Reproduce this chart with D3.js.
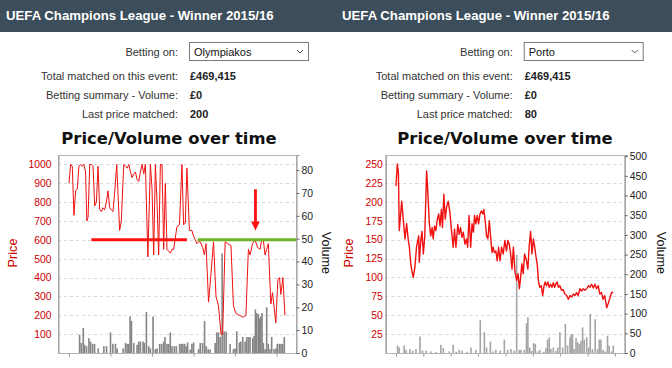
<!DOCTYPE html>
<html>
<head>
<meta charset="utf-8">
<script src="https://cdn.jsdelivr.net/npm/d3@7"></script>
<style>
  body { margin: 0; background: #fff; }
  svg { display: block; }
</style>
</head>
<body>
<div id="chart"></div>
<script>
const eventTitle = "UEFA Champions League - Winner 2015/16";
const chartTitle = "Price/Volume over time";
const infoLabels = ["Betting on:", "Total matched on this event:", "Betting summary - Volume:", "Last price matched:"];
const runners = ["Olympiakos", "Porto"];
const totalMatched = ["£469,415", "£469,415"];
const summaryVolume = ["£0", "£0"];
const lastPrice = ["200", "80"];

// Olympiakos: [time, price]
const leftPrice = [
  [0,900],[0.4,1000],[0.8,990],[1.2,730],[1.6,860],[2.0,870],[2.4,990],[2.8,1000],[3.2,990],[3.6,1000],
  [4.0,960],[4.3,700],[4.6,720],[5.0,1000],[5.4,1000],[5.8,990],[6.2,780],[6.6,800],[7.0,990],[7.4,760],
  [7.8,750],[8.2,770],[8.6,760],[9.0,800],[9.4,860],[9.8,770],[10.2,760],[10.6,750],[11.0,850],[11.5,1000],
  [12.2,650],[12.6,700],[13.2,1000],[13.6,990],[14.0,980],[14.4,1000],[14.8,960],[15.2,930],[15.6,950],[16.0,960],
  [16.4,920],[16.8,910],[17.2,960],[17.6,1000],[18.0,950],[18.4,1000],[19.0,510],[19.6,1000],[20.0,870],[20.4,520],
  [20.8,1000],[21.2,800],[21.6,520],[22.0,1000],[22.4,1000],[22.8,550],[23.2,900],[23.6,550],[24.0,540],[24.4,530],
  [24.8,550],[25.2,550],[26.0,670],[26.6,680],[27.2,1000],[27.6,680],[28.0,690],[28.4,980],[29.0,650],[29.6,650],
  [30.0,620],[30.4,600],[30.8,580],[31.2,590],[31.6,590],[32.2,560],[32.6,520],[33.0,580],[33.6,270],[34.2,420],
  [34.8,590],[35.4,300],[36.0,250],[36.6,100],[37.0,100],[37.6,590],[38.2,580],[39.0,570],[39.6,250],[40.2,210],
  [41.0,200],[42.0,190],[42.6,200],[43.2,550],[43.6,520],[44.2,580],[44.8,600],[45.4,560],[46.0,550],[46.4,600],
  [46.8,600],[47.2,520],[47.6,550],[48.0,580],[48.6,260],[49.0,320],[49.8,160],[50.3,390],[50.7,400],[51.0,310],
  [51.5,400],[52.0,200]
];
// Olympiakos: [time, volume]
const leftVolume = [
  [2.56,8],[2.96,4.4],[3.44,11],[3.76,3.6],[4.24,3],[4.8,6.5],[5.2,5],[5.68,4],[6.16,4],[7.04,2],
  [8.4,3],[9.04,3],[10,9],[10.56,4],[11.2,4],[11.6,2],[13.04,2],[13.6,4.4],[14,4],[14.4,4],
  [14.72,16],[15.04,14],[15.6,4.4],[16.4,3.6],[16.8,5],[17.2,5],[17.84,5],[18.16,4.4],[18.64,18],[19.2,3],
  [19.6,2],[20.24,16],[20.8,1.7],[21.2,2],[21.84,4],[22.32,4],[22.8,5],[23.12,7],[23.6,4],[24,4],
  [24.4,9],[24.8,3],[25.36,3],[25.84,3],[26.64,4],[27.04,4],[27.44,4],[27.84,4],[28.24,3],[28.56,4.6],
  [29.2,1.5],[29.6,4],[30,4.6],[31.2,1.7],[31.6,4.4],[32.16,4.4],[32.64,14],[33.04,3],[33.52,1.7],[34,1.5],
  [35.2,4.4],[35.6,9],[36,9],[36.4,7],[36.88,43.5],[37.36,9.4],[37.84,9.4],[38.8,4],[39.6,1.7],[40,2],
  [40.4,9.5],[41.04,4.6],[41.36,5],[41.84,7],[42.4,5],[42.8,7],[43.2,7],[43.6,7],[44.24,6.5],[44.56,7.5],
  [44.88,19],[45.2,17.5],[45.6,17],[45.84,15],[46.16,16],[46.48,17.5],[46.8,4.4],[47.2,1.7],[47.6,20],[48,4],
  [48.4,1.7],[48.8,7],[49.36,1.7],[49.84,2],[50.16,4],[50.64,4],[51.04,4],[51.44,4],[51.84,7]
];
// Porto: [time, price]
const rightPrice = [
  [0,221],[0.05,250],[0.09,238],[0.12,162],[0.21,201],[0.27,175],[0.33,151],[0.39,171],[0.45,149],[0.49,140],
  [0.54,118],[0.58,109],[0.63,100],[0.69,113],[0.75,140],[0.83,155],[0.85,120],[0.90,146],[0.95,161],[1.00,131],
  [1.05,153],[1.12,241],[1.16,215],[1.22,171],[1.27,155],[1.32,166],[1.36,151],[1.41,168],[1.46,162],[1.51,177],
  [1.56,184],[1.61,168],[1.66,190],[1.70,166],[1.75,210],[1.80,177],[1.85,193],[1.91,201],[1.97,186],[2.03,162],
  [2.09,140],[2.14,164],[2.19,140],[2.26,170],[2.31,157],[2.36,166],[2.41,153],[2.46,160],[2.52,144],[2.58,151],
  [2.62,140],[2.67,182],[2.73,140],[2.78,171],[2.83,160],[2.87,182],[2.92,171],[2.97,182],[3.02,171],[3.07,184],
  [3.12,188],[3.17,184],[3.21,190],[3.26,175],[3.31,155],[3.36,151],[3.41,175],[3.46,153],[3.51,133],[3.55,140],
  [3.60,133],[3.65,135],[3.70,122],[3.75,140],[3.80,122],[3.86,140],[3.92,131],[3.98,149],[4.04,135],[4.09,149],
  [4.14,144],[4.19,131],[4.24,111],[4.29,140],[4.35,107],[4.41,96],[4.46,105],[4.51,85],[4.55,98],[4.60,118],
  [4.65,105],[4.70,131],[4.77,122],[4.82,111],[4.87,142],[4.92,161],[4.97,131],[5.02,151],[5.07,140],[5.11,129],
  [5.16,118],[5.21,94],[5.26,87],[5.31,89],[5.36,76],[5.41,89],[5.45,94],[5.50,89],[5.55,94],[5.60,87],
  [5.65,91],[5.70,87],[5.75,93],[5.80,87],[5.84,91],[5.89,94],[5.94,87],[5.99,89],[6.05,83],[6.11,84],
  [6.17,78],[6.24,76],[6.30,71],[6.36,76],[6.42,74],[6.48,78],[6.54,76],[6.60,80],[6.66,76],[6.72,85],
  [6.78,82],[6.84,85],[6.90,83],[6.97,85],[7.03,89],[7.09,87],[7.15,91],[7.21,86],[7.27,91],[7.33,85],
  [7.39,89],[7.45,78],[7.51,80],[7.57,71],[7.63,76],[7.70,60],[7.76,66],[7.82,73],[7.88,80],[7.94,80]
];
// Porto: [time, volume]
const rightVolume = [
  [0.06,19],[0.12,14],[0.30,19],[0.37,8],[0.51,10],[0.61,6],[0.73,10],[0.88,42],[0.97,6],[1.10,6],
  [1.28,4],[1.45,3],[1.64,21],[1.73,13],[1.95,4],[2.09,21],[2.2,3],[2.31,8],[2.41,6],[2.6,3],
  [2.74,14],[2.92,8],[3.08,84],[3.23,53],[3.31,14],[3.45,29],[3.55,4],[3.65,8],[3.81,6],[3.96,34],
  [4.08,8],[4.20,10],[4.32,6],[4.41,249],[4.51,8],[4.57,8],[4.69,8],[4.77,76],[4.82,91],[4.89,14],
  [4.96,5],[5.03,25],[5.09,23],[5.18,4],[5.26,8],[5.40,3],[5.48,12],[5.54,34],[5.60,40],[5.66,10],
  [5.75,14],[5.85,5],[5.91,14],[5.99,53],[6.09,14],[6.19,74],[6.27,19],[6.36,40],[6.40,48],[6.45,47],
  [6.51,10],[6.58,38],[6.64,27],[6.70,23],[6.76,31],[6.82,65],[6.88,34],[6.97,40],[7.04,14],[7.10,99],
  [7.18,10],[7.28,86],[7.37,10],[7.43,34],[7.49,34],[7.57,8],[7.65,4],[7.73,44],[7.79,19],[7.88,4],[7.94,19]
];

const leftPriceTicks = [100, 200, 300, 400, 500, 600, 700, 800, 900, 1000];
const leftVolumeTicks = [0, 10, 20, 30, 40, 50, 60, 70, 80];
const leftTimeTicks = [0, 10, 20, 30, 40, 50];
const rightPriceTicks = [25, 50, 75, 100, 125, 150, 175, 200, 225, 250];
const rightVolumeTicks = [0, 50, 100, 150, 200, 250, 300, 350, 400, 450, 500];
const rightTimeTicks = [0, 1, 2, 3, 4, 5, 6, 7, 8];

// marker lines drawn on the Olympiakos chart: [from time, to time, price]
const redLevel = [5.4, 28.4, 600];
const greenLevel = [31, 54.9, 600];
// arrow: [time, top price, tip price]
const arrowMark = [44.9, 868, 649];

const W = 672, H = 368;
const svg = d3.select("#chart").append("svg")
  .attr("width", W).attr("height", H)
  .style("font-family", "'Liberation Sans', Arial, sans-serif");

svg.append("rect").attr("width", W).attr("height", 32).attr("fill", "#3c4e5b");

const rowY = [56, 80, 99, 118];
const plotTop = 155, plotBottom = 353;
const tickFont = "'Liberation Sans', Arial, sans-serif";

function drawPanel(ox, cfg) {
  const g = svg.append("g").attr("transform", `translate(${ox},0)`);

  g.append("text")
    .attr("x", 6).attr("y", 20)
    .attr("fill", "#fff").attr("font-weight", "bold").attr("font-size", 13.2)
    .text(eventTitle);

  infoLabels.forEach((lab, i) => {
    g.append("text")
      .attr("x", cfg.labelX).attr("y", rowY[i])
      .attr("text-anchor", "end").attr("font-size", 11).attr("fill", "#333")
      .text(lab);
  });

  // dropdown box
  g.append("rect")
    .attr("x", cfg.labelX + 11.5).attr("y", 42.5)
    .attr("width", 119).attr("height", 18)
    .attr("fill", "#fff").attr("stroke", "#7a7a7a");
  g.append("text")
    .attr("x", cfg.labelX + 16).attr("y", rowY[0])
    .attr("font-size", 11).attr("fill", "#111")
    .text(cfg.runner);
  const cx = cfg.labelX + 122;
  g.append("path")
    .attr("d", `M${cx - 3},${50} L${cx},${53} L${cx + 3},${50}`)
    .attr("fill", "none").attr("stroke", "#555");

  [cfg.total, cfg.volume, cfg.last].forEach((v, i) => {
    g.append("text")
      .attr("x", cfg.labelX + 12).attr("y", rowY[i + 1])
      .attr("font-size", 11).attr("font-weight", "bold").attr("fill", "#222")
      .text(v);
  });

  g.append("text")
    .attr("x", 169).attr("y", 144)
    .attr("text-anchor", "middle")
    .attr("font-family", "'DejaVu Sans', sans-serif")
    .attr("font-weight", "bold").attr("font-size", 16.4).attr("fill", "#111")
    .text(chartTitle);

  const x = d3.scaleLinear().domain(cfg.tDomain).range([cfg.left, cfg.right]);
  const yP = d3.scaleLinear().domain(cfg.pDomain).range([plotBottom, plotTop]);
  const yV = d3.scaleLinear().domain(cfg.vDomain).range([plotBottom, plotTop]);

  // gridlines
  g.append("g")
    .selectAll("line")
    .data(cfg.pTicks)
    .join("line")
    .attr("x1", cfg.left).attr("x2", cfg.right)
    .attr("y1", d => Math.round(yP(d)) + 0.5).attr("y2", d => Math.round(yP(d)) + 0.5)
    .attr("stroke", "#d8d8d8").attr("stroke-dasharray", "3,3");

  // volume bars
  g.append("g")
    .selectAll("rect")
    .data(cfg.vol)
    .join("rect")
    .attr("x", d => x(d[0]) - 0.8)
    .attr("width", 1.6)
    .attr("y", d => yV(d[1]))
    .attr("height", d => yV(0) - yV(d[1]))
    .attr("fill", cfg.barColor);

  // price line
  g.append("path")
    .datum(cfg.price)
    .attr("fill", "none")
    .attr("stroke", "#f01010")
    .attr("stroke-width", cfg.lineWidth)
    .attr("stroke-linejoin", "round")
    .attr("d", d3.line().x(d => x(d[0])).y(d => yP(d[1])));

  if (cfg.marks) cfg.marks(g, x, yP);

  // frame
  g.append("rect")
    .attr("x", cfg.left + 0.5).attr("y", plotTop + 0.5)
    .attr("width", cfg.right - cfg.left - 1).attr("height", plotBottom - plotTop)
    .attr("fill", "none").attr("stroke", "#b5b5b5");

  const ax = g.append("g")
    .attr("transform", `translate(${cfg.left + 0.5},0)`)
    .call(d3.axisLeft(yP).tickValues(cfg.pTicks).tickSize(0).tickPadding(cfg.padL).tickFormat(d3.format("d")));
  ax.select(".domain").attr("stroke", "#999");
  ax.selectAll("text").attr("fill", "#cc0000").attr("font-size", 10.4)
    .attr("font-family", tickFont);

  const ay = g.append("g")
    .attr("transform", `translate(${cfg.right - 0.5},0)`)
    .call(d3.axisRight(yV).tickValues(cfg.vTicks).tickSize(3).tickPadding(2).tickFormat(d3.format("d")));
  ay.select(".domain").attr("stroke", "#999");
  ay.selectAll("line").attr("stroke", "#666");
  ay.selectAll("text").attr("fill", "#222").attr("font-size", 10.4)
    .attr("font-family", tickFont);

  const axb = g.append("g")
    .attr("transform", `translate(0,${plotBottom + 0.5})`)
    .call(d3.axisBottom(x).tickValues(cfg.tTicks).tickSize(3).tickFormat(""));
  axb.select(".domain").remove();
  axb.selectAll("line").attr("stroke", "#999");

  g.append("text")
    .attr("transform", `translate(${cfg.priceLabelX},253) rotate(-90)`)
    .attr("text-anchor", "middle").attr("dy", "0.35em")
    .attr("font-size", 12.7).attr("fill", "#cc0000")
    .text("Price");
  g.append("text")
    .attr("transform", `translate(${cfg.volLabelX},253) rotate(90)`)
    .attr("text-anchor", "middle").attr("dy", "0.35em")
    .attr("font-size", 12.7).attr("fill", "#111")
    .text("Volume");
}

drawPanel(0, {
  labelX: 178, runner: runners[0], total: totalMatched[0], volume: summaryVolume[0], last: lastPrice[0],
  left: 58, right: 297, tDomain: [-2.64, 54.9], pDomain: [0, 1050], vDomain: [0, 86.6],
  pTicks: leftPriceTicks, vTicks: leftVolumeTicks, tTicks: leftTimeTicks,
  price: leftPrice, vol: leftVolume, barColor: "#858585", lineWidth: 1,
  padL: 7, priceLabelX: 13, volLabelX: 326,
  marks: (g, x, yP) => {
    g.append("line")
      .attr("x1", x(redLevel[0])).attr("x2", x(redLevel[1]))
      .attr("y1", yP(redLevel[2])).attr("y2", yP(redLevel[2]))
      .attr("stroke", "#ff1111").attr("stroke-width", 3);
    g.append("line")
      .attr("x1", x(greenLevel[0])).attr("x2", x(greenLevel[1]))
      .attr("y1", yP(greenLevel[2])).attr("y2", yP(greenLevel[2]))
      .attr("stroke", "#6cb423").attr("stroke-width", 3);
    const ax0 = x(arrowMark[0]), yTop = yP(arrowMark[1]), yTip = yP(arrowMark[2]);
    const headH = 9, shaft = 1.4, head = 4.3;
    g.append("path")
      .attr("d", `M${ax0 - shaft},${yTop} L${ax0 + shaft},${yTop} L${ax0 + shaft},${yTip - headH}
        L${ax0 + head},${yTip - headH} L${ax0},${yTip} L${ax0 - head},${yTip - headH}
        L${ax0 - shaft},${yTip - headH} Z`)
      .attr("fill", "#ff1111");
  }
});

drawPanel(336, {
  labelX: 176.7, runner: runners[1], total: totalMatched[1], volume: summaryVolume[1], last: lastPrice[1],
  left: 49.3, right: 289.3, tDomain: [-0.39, 8.38], pDomain: [0, 262], vDomain: [0, 503],
  pTicks: rightPriceTicks, vTicks: rightVolumeTicks, tTicks: rightTimeTicks,
  price: rightPrice, vol: rightVolume, barColor: "#a5a5a5", lineWidth: 1.4,
  padL: 3, priceLabelX: 12.7, volLabelX: 325
});
</script>
</body>
</html>
